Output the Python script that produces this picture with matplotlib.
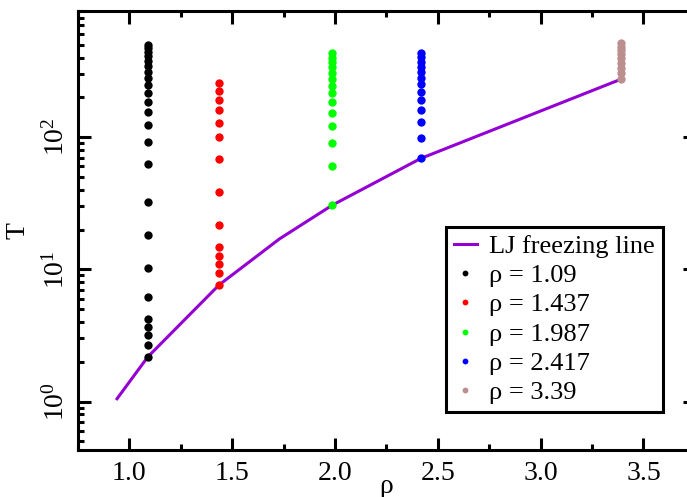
import matplotlib
matplotlib.use("Agg")
import matplotlib.pyplot as plt
from matplotlib.ticker import MultipleLocator, LogLocator, NullFormatter, LogFormatterMathtext

plt.rcParams['font.family'] = 'Liberation Serif'
plt.rcParams['mathtext.fontset'] = 'stix'

# LJ freezing line (density, temperature)
rho_line = [0.94, 1.09, 1.437, 1.73, 1.987, 2.417, 3.39]
T_line = [1.05, 2.18, 7.64, 17.0, 30.6, 69.0, 274.0]

# isochores: state points along each density
densities = [1.09, 1.437, 1.987, 2.417, 3.39]
labels = ["1.09", "1.437", "1.987", "2.417", "3.39"]
colors = ["#000000", "#ff0000", "#00ff00", "#0000ff", "#bc8f8f"]
T_points = [
    [2.18, 2.68, 3.18, 3.68, 4.18, 6.18, 10.2, 18.2, 32.2, 62.2, 92.2, 123,
     154, 185, 217, 250, 282, 313, 345, 376, 408, 440, 471, 502],
    [7.64, 9.36, 11.0, 12.7, 14.7, 21.7, 38.3, 68.3, 99.5, 129, 160, 190,
     224, 257],
    [30.6, 60.6, 90.6, 121, 152, 183, 214, 245, 276, 306, 337, 368, 399, 430],
    [69, 99, 130, 160, 190, 221, 251, 281, 311, 341, 371, 401, 432],
    [274, 304, 334, 364, 394, 424, 454, 484, 514],
]

fig = plt.figure(figsize=(6.87, 4.97), dpi=100)
ax = fig.add_axes([0.1135, 0.0946, 0.898, 0.8833])

ax.plot(rho_line, T_line, color="#9400d3", lw=2.2, label="LJ freezing line", zorder=2)
for rho, Ts, c, lab in zip(densities, T_points, colors, labels):
    ax.plot([rho] * len(Ts), Ts, "o", color=c, ms=6, mec="none",
            label="\u03c1 = " + lab, zorder=3)

ax.set_yscale("log")
ax.set_xlim(0.75, 3.75)
ax.set_ylim(0.43, 900)

ax.xaxis.set_major_locator(MultipleLocator(0.5))
ax.xaxis.set_minor_locator(MultipleLocator(0.25))
ax.xaxis.set_major_formatter(plt.FormatStrFormatter("%.1f"))
ax.yaxis.set_major_locator(LogLocator(base=10))
ax.yaxis.set_minor_locator(LogLocator(base=10, subs=range(2, 10)))
ax.yaxis.set_minor_formatter(NullFormatter())
ax.yaxis.set_major_formatter(LogFormatterMathtext())

for s in ax.spines.values():
    s.set_linewidth(2.2)
ax.tick_params(which="both", direction="in", top=True, right=True, width=2.2)
ax.tick_params(which="major", length=9, labelsize=20)
ax.tick_params(which="minor", length=4.5)
ax.tick_params(axis="x", pad=8)
ax.tick_params(axis="y", pad=6)
for t in ax.get_yticklabels():
    t.set_rotation(90)
    t.set_va("center")

ax.set_xlabel("\u03c1", fontsize=20, labelpad=-9)
ax.set_ylabel("T", fontsize=20, labelpad=9)

leg = ax.legend(loc="lower right", bbox_to_anchor=(0.948, 0.086), borderaxespad=0,
                fontsize=19, frameon=True, fancybox=False, edgecolor="black",
                framealpha=1, handlelength=0.9, handletextpad=0.45,
                labelspacing=0.22, borderpad=0.3, markerscale=0.7)
leg.get_frame().set_linewidth(2.2)

fig.savefig("out.png", dpi=100)
